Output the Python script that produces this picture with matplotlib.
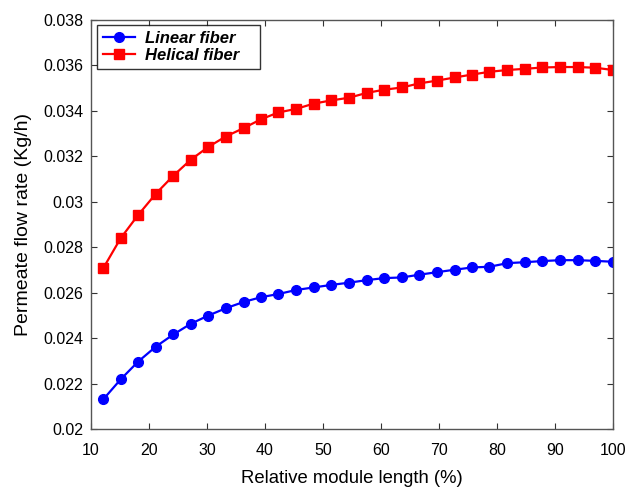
import matplotlib
matplotlib.use("Agg")
import matplotlib.pyplot as plt

plt.rcParams['font.family'] = ['Liberation Sans', 'DejaVu Sans']

length_pct = [12.1, 15.1, 18.1, 21.2, 24.2, 27.2, 30.2, 33.2, 36.3, 39.3,
              42.3, 45.4, 48.4, 51.4, 54.5, 57.5, 60.5, 63.6, 66.6, 69.6,
              72.7, 75.7, 78.7, 81.8, 84.8, 87.8, 90.9, 93.9, 96.9, 100.0]

linear_fiber = [0.02130, 0.02218, 0.02296, 0.02363, 0.02416, 0.02463, 0.02499, 0.02531,
                0.02559, 0.02580, 0.02594, 0.02612, 0.02623, 0.02634, 0.02644, 0.02655,
                0.02664, 0.02667, 0.02679, 0.02690, 0.02701, 0.02711, 0.02714, 0.02730,
                0.02734, 0.02739, 0.02743, 0.02743, 0.02740, 0.02736]

helical_fiber = [0.02707, 0.02839, 0.02941, 0.03036, 0.03115, 0.03185, 0.03241, 0.03287,
                 0.03324, 0.03363, 0.03393, 0.03409, 0.03432, 0.03446, 0.03458, 0.03479,
                 0.03493, 0.03503, 0.03521, 0.03533, 0.03547, 0.03560, 0.03572, 0.03580,
                 0.03585, 0.03591, 0.03593, 0.03593, 0.03590, 0.03580]

x_ticks = [10, 20, 30, 40, 50, 60, 70, 80, 90, 100]
y_ticks = [0.020, 0.022, 0.024, 0.026, 0.028, 0.030, 0.032, 0.034, 0.036, 0.038]
y_tick_labels = ['0.02', '0.022', '0.024', '0.026', '0.028', '0.03', '0.032', '0.034', '0.036', '0.038']

fig = plt.figure(figsize=(6.25, 4.91), dpi=100)
ax = fig.add_axes([91 / 625, 1 - 429 / 491, (613 - 91) / 625, (429 - 20) / 491])

ax.plot(length_pct, linear_fiber, color='#0000ff', marker='o', markersize=7,
        linewidth=1.6, label='Linear fiber')
ax.plot(length_pct, helical_fiber, color='#ff0000', marker='s', markersize=7.5,
        linewidth=1.6, label='Helical fiber')

ax.set_xlim(10, 100)
ax.set_ylim(0.02, 0.038)
ax.set_xticks(x_ticks)
ax.set_xticklabels([str(t) for t in x_ticks])
ax.set_yticks(y_ticks)
ax.set_yticklabels(y_tick_labels)
ax.tick_params(direction='in', top=True, right=True, labelsize=11.5, length=4, width=0.8,
               colors='#333333', labelcolor='black')
ax.tick_params(axis='x', pad=10)
ax.tick_params(axis='y', pad=5.5)
for s in ax.spines.values():
    s.set_color('#555555')
    s.set_linewidth(1.0)

ax.set_xlabel('Relative module length (%)', fontsize=13.3, labelpad=9)
ax.set_ylabel('Permeate flow rate (Kg/h)', fontsize=14, labelpad=8)

leg = ax.legend(loc='upper left', bbox_to_anchor=(0.0115, 0.0, 0.312, 0.988), mode='expand',
                prop={'style': 'italic', 'weight': 'bold', 'size': 12},
                frameon=True, fancybox=False, borderaxespad=0.0, handlelength=1.9,
                handletextpad=0.6, borderpad=0.35, labelspacing=0.15)
leg.get_frame().set_edgecolor('black')
leg.get_frame().set_linewidth(1.0)

fig.savefig('out.png', dpi=100)
